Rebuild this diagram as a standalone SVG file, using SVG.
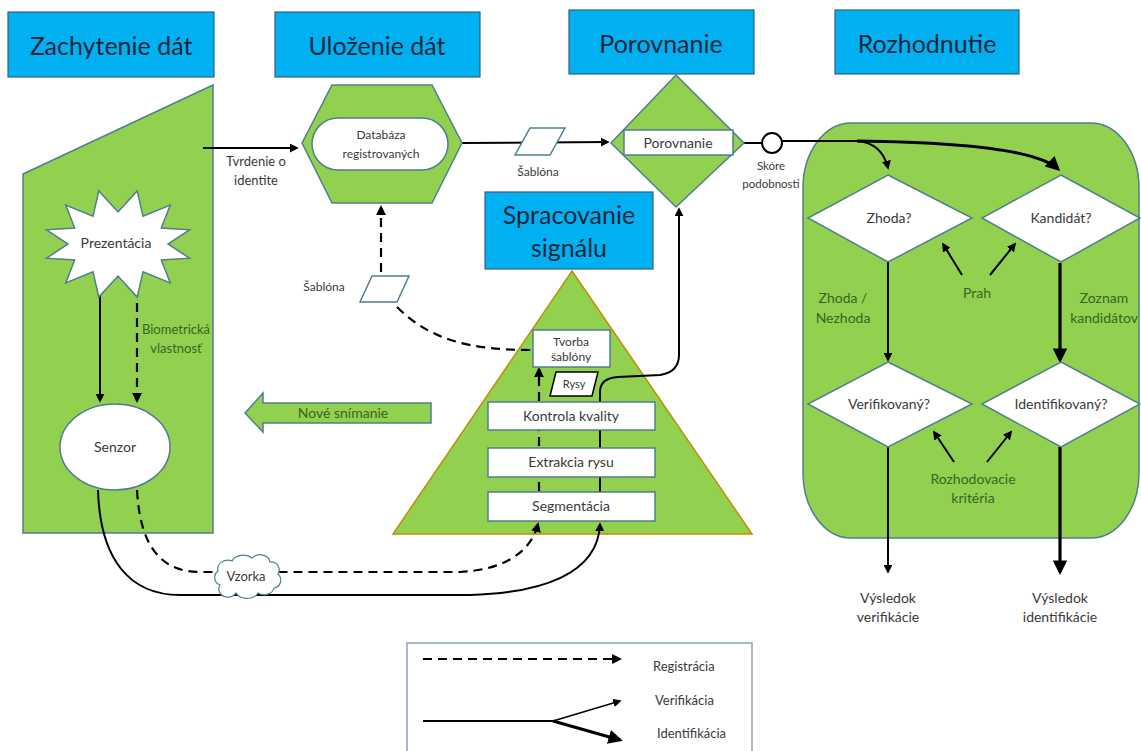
<svg xmlns="http://www.w3.org/2000/svg" width="1141" height="751" viewBox="0 0 1141 751">
<defs>
<style>
text{font-family:Lato,"Liberation Sans",sans-serif;fill:#3a3a3a;text-anchor:middle}
.hdr rect{fill:#00b0f0;stroke:#2f5f86;stroke-width:1.2}
.hdr text{font-size:25px;fill:#12263a}
.grn{fill:#92d050;stroke:#4f7f8f;stroke-width:1.5}
.wbox{fill:#fff;stroke:#4f7f8f;stroke-width:1.5}
.t14{font-size:14px}
.t13{font-size:13px}
.t12{font-size:12px}
.gt{fill:#38661f}
.ln{fill:none;stroke:#000;stroke-width:2}
.dl{fill:none;stroke:#000;stroke-width:2.2;stroke-dasharray:9 6}
.thk{fill:none;stroke:#000;stroke-width:3.2}
.thn{fill:none;stroke:#000;stroke-width:1.4}
</style>
<marker id="ah" viewBox="0 0 10 10" refX="8" refY="5" markerWidth="4.5" markerHeight="4.5" orient="auto"><path d="M0,0 L10,5 L0,10 z" fill="#000"/></marker>
<marker id="ahs" viewBox="0 0 10 10" refX="8" refY="5" markerWidth="6" markerHeight="6" orient="auto"><path d="M0,0 L10,5 L0,10 z" fill="#000"/></marker>
</defs>
<rect width="1141" height="751" fill="#fff"/>

<g id="h-zachytenie" class="hdr"><rect x="8" y="12" width="206" height="65"/><text x="111" y="55">Zachytenie dát</text></g>
<g id="h-ulozenie" class="hdr"><rect x="275" y="12" width="205" height="65"/><text x="377" y="55">Uloženie dát</text></g>
<g id="h-porovnanie" class="hdr"><rect x="569" y="10" width="185" height="64"/><text x="661" y="53">Porovnanie</text></g>
<g id="h-rozhodnutie" class="hdr"><rect x="835" y="10" width="184" height="64"/><text x="927" y="53">Rozhodnutie</text></g>
<g id="h-spracovanie" class="hdr"><rect x="485" y="192" width="168" height="77"/><text x="569" y="224">Spracovanie</text><text x="569" y="257">signálu</text></g>

<g id="capture-area"><polygon class="grn" points="23,174 213,85 213,533 23,533"/></g>
<g id="decision-area"><rect class="grn" x="803" y="123" width="336" height="415" rx="48" ry="65"/></g>
<g id="processing-area"><polygon points="572,271 752,534 393,534" fill="#92d050" stroke="#bf9000" stroke-width="1.5"/></g>

<g id="connectors">
<path class="ln" d="M203 148 L297 148" marker-end="url(#ah)"/>
<path class="ln" d="M462 143 L608 142" marker-end="url(#ah)"/>
<path class="ln" d="M744 143 L762 143"/>
<path class="ln" d="M782 141 L857 141"/>
<path class="ln" d="M857 141 Q882 143 888 168" marker-end="url(#ah)"/>
<path class="thk" d="M857 141 Q1030 143 1058 169" marker-end="url(#ah)"/>
<path class="ln" d="M100 287 L100 401" marker-end="url(#ah)"/>
<path class="dl" d="M137 288 L137 401" marker-end="url(#ah)"/>
<path class="dl" d="M381 272 L381 207" marker-end="url(#ah)"/>
<path class="dl" d="M397 307 C430 340 470 350 531 350"/>
<path class="dl" d="M539 521 L539 369" marker-end="url(#ah)"/>
<path class="ln" d="M600 521 L600 392 Q600 378 618 377 L660 375 Q679 372 679 355 L679 209" marker-end="url(#ah)"/>
<path class="dl" d="M137 490 C140 545 160 572 200 572 L460 572 C500 570 530 555 538 524" marker-end="url(#ah)"/>
<path class="ln" d="M98 490 C100 560 130 595 180 595 L470 595 C540 593 598 575 600 524" marker-end="url(#ah)"/>
<path class="ln" d="M888 262 L888 360" marker-end="url(#ah)"/>
<path class="thk" d="M1060 263 L1060 360" marker-end="url(#ah)"/>
<path class="ln" d="M962 275 L943 244" marker-end="url(#ah)"/>
<path class="ln" d="M990 275 L1015 244" marker-end="url(#ah)"/>
<path class="ln" d="M954 462 L934 432" marker-end="url(#ah)"/>
<path class="ln" d="M987 462 L1011 432" marker-end="url(#ah)"/>
<path class="ln" d="M888 447 L888 572" marker-end="url(#ah)"/>
<path class="thk" d="M1060 447 L1060 572" marker-end="url(#ah)"/>
</g>

<g id="prezentacia">
<polygon points="137.2,190.9 143,216.3 170.3,205.1 161.3,228 189.5,229.8 168,244 189.5,258.2 161.3,260 170.3,282.9 143,271.7 137.2,297.1 118,276 98.8,297.1 93,271.7 65.7,282.9 74.7,260 46.5,258.2 68,244 46.5,229.8 74.7,228 65.7,205.1 93,216.3 98.8,190.9 118,212" fill="#fff" stroke="#4f7f8f" stroke-width="1.5"/>
<text class="t14" x="116" y="248">Prezentácia</text>
</g>
<g id="biometricka"><text class="t13 gt" x="176" y="334">Biometrická</text><text class="t13 gt" x="176" y="353">vlastnosť</text></g>
<g id="senzor"><ellipse cx="115" cy="447" rx="55" ry="43" fill="#fff" stroke="#4f7f8f" stroke-width="1.5"/><text class="t14" x="115" y="452">Senzor</text></g>
<g id="tvrdenie"><text class="t13" x="256" y="166">Tvrdenie o</text><text class="t13" x="256" y="185">identite</text></g>

<g id="databaza">
<polygon class="grn" points="302,143 332,85 432,85 462,143 432,203 332,203"/>
<rect class="wbox" x="312" y="118" width="136" height="52" rx="26"/>
<text class="t12" x="381" y="139">Databáza</text><text class="t12" x="381" y="158">registrovaných</text>
</g>
<g id="sablona-1"><polygon class="wbox" points="530,128 565,128 550,155 515,155"/><text class="t12" x="538" y="176">Šablóna</text></g>
<g id="porovnanie">
<polygon class="grn" points="676,75 744,143 676,207 611,143"/>
<rect class="wbox" x="624" y="130" width="109" height="25"/>
<text class="t14" x="678" y="148">Porovnanie</text>
</g>
<g id="skore"><circle cx="772" cy="143" r="10" fill="#fff" stroke="#000" stroke-width="2"/><text x="771" y="170" style="font-size:11.5px">Skóre</text><text x="771" y="188" style="font-size:11.5px">podobnosti</text></g>

<g id="sablona-2"><polygon class="wbox" points="372,276 409,276 397,302 360,302"/><text class="t12" x="324" y="291">Šablóna</text></g>
<g id="nove-snimanie"><polygon class="grn" points="245,413 263,393 263,403 431,403 431,423 263,423 263,432"/><text class="t14 gt" x="343" y="418">Nové snímanie</text></g>

<g id="tvorba"><rect class="wbox" x="533" y="330" width="77" height="37"/><text class="t12" x="571" y="346">Tvorba</text><text class="t12" x="571" y="361">šablóny</text></g>
<g id="rysy"><polygon points="556,372 598,372 592,396 550,396" fill="#fff" stroke="#000" stroke-width="1.5"/><text x="574" y="388" style="font-size:11px">Rysy</text></g>
<g id="kontrola"><rect class="wbox" x="488" y="402" width="167" height="28"/><text class="t14" x="571" y="421">Kontrola kvality</text></g>
<g id="extrakcia"><rect class="wbox" x="488" y="448" width="167" height="29"/><text class="t14" x="571" y="467">Extrakcia rysu</text></g>
<g id="segmentacia"><rect class="wbox" x="488" y="492" width="167" height="29"/><text class="t14" x="571" y="511">Segmentácia</text></g>

<g id="vzorka"><path d="M220 585 a8 8 0 0 1 -2 -14 a10 9 0 0 1 14 -10 a12 9 0 0 1 20 -3 a10 8 0 0 1 18 4 a8 8 0 0 1 8 12 a8 8 0 0 1 -4 14 a10 8 0 0 1 -16 5 a12 9 0 0 1 -22 0 a9 8 0 0 1 -16 -8 z" fill="#fff" stroke="#4f7f8f" stroke-width="1.2"/><text class="t13" x="246" y="581">Vzorka</text></g>

<g id="zhoda"><polygon points="888,175 972,218 888,262 808,218" fill="#fff" stroke="#4f7f8f" stroke-width="1.5"/><text class="t14" x="889" y="223">Zhoda?</text></g>
<g id="kandidat"><polygon points="1061,175 1140,218 1061,262 982,218" fill="#fff" stroke="#4f7f8f" stroke-width="1.5"/><text class="t14" x="1061" y="223">Kandidát?</text></g>
<g id="verifikovany"><polygon points="888,362 972,404 888,447 808,404" fill="#fff" stroke="#4f7f8f" stroke-width="1.5"/><text class="t14" x="889" y="409">Verifikovaný?</text></g>
<g id="identifikovany"><polygon points="1061,362 1140,404 1061,447 982,404" fill="#fff" stroke="#4f7f8f" stroke-width="1.5"/><text class="t14" x="1061" y="409">Identifikovaný?</text></g>
<g id="labels-right">
<text class="t14 gt" x="843" y="303">Zhoda /</text><text class="t14 gt" x="843" y="323">Nezhoda</text>
<text class="t14 gt" x="977" y="298">Prah</text>
<text class="t14 gt" x="1104" y="303">Zoznam</text><text class="t14 gt" x="1104" y="323">kandidátov</text>
<text class="t14 gt" x="973" y="484">Rozhodovacie</text><text class="t14 gt" x="973" y="503">kritéria</text>
</g>
<g id="vysledok-v"><text class="t14" x="888" y="603">Výsledok</text><text class="t14" x="888" y="622">verifikácie</text></g>
<g id="vysledok-i"><text class="t14" x="1060" y="603">Výsledok</text><text class="t14" x="1060" y="622">identifikácie</text></g>

<g id="legend">
<rect x="407" y="643" width="345" height="120" fill="#fff" stroke="#8ea2b8" stroke-width="1.5"/>
<path class="dl" d="M423 659 L620 659" marker-end="url(#ah)"/>
<path class="ln" d="M423 721 L553 721"/>
<path class="thn" d="M553 721 L620 701" marker-end="url(#ahs)"/>
<path class="thk" d="M553 721 L620 740" marker-end="url(#ah)"/>
<text class="t13" x="653" y="671" style="text-anchor:start">Registrácia</text>
<text class="t13" x="655" y="705" style="text-anchor:start">Verifikácia</text>
<text class="t13" x="657" y="738" style="text-anchor:start">Identifikácia</text>
</g>
</svg>
